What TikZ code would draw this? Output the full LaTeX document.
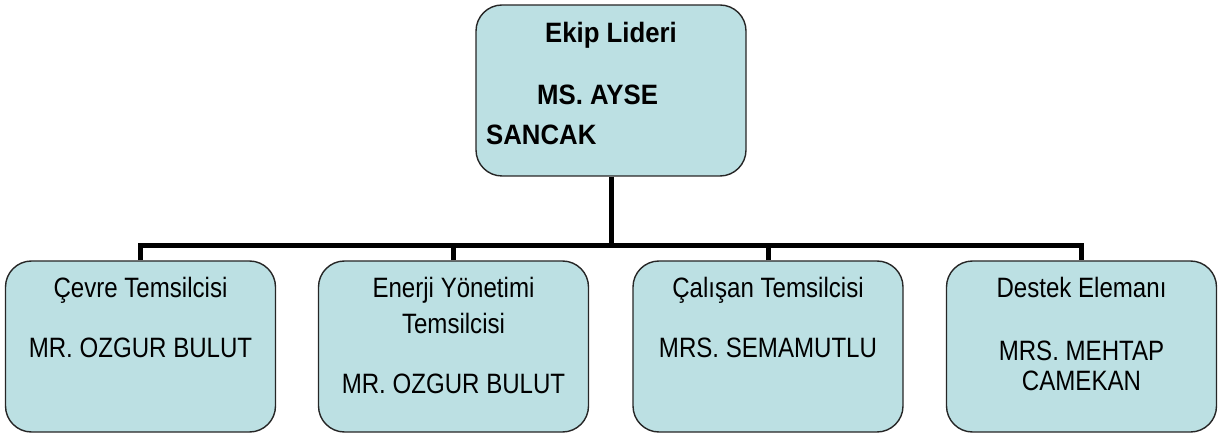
\documentclass[tikz,border=0pt]{standalone}
\usepackage{fontspec}
\setmainfont{Liberation Sans}
\newfontfamily\narrowf[FakeStretch=0.86]{Liberation Sans}
\newfontfamily\narrowbf[FakeStretch=0.92]{Liberation Sans Bold}
\definecolor{boxfill}{RGB}{188,224,227}
\tikzset{
  orgbox/.style={draw=black!85, line width=1.4pt, fill=boxfill, rounded corners=26pt,
    minimum width=270pt, minimum height=171pt, inner sep=0pt},
  conn/.style={line width=5pt, black},
  lbl/.style={anchor=base, inner sep=0pt, font=\narrowf\fontsize{28}{32}\selectfont},
  blbl/.style={anchor=base, inner sep=0pt, font=\narrowbf\fontsize{28}{32}\selectfont}
}
\begin{document}
\begin{tikzpicture}[x=1pt,y=-1pt]
\useasboundingbox (0,0) rectangle (1222,435);
% boxes
\node[orgbox] (top) at (611,90.5) {};
\node[orgbox] (c1) at (140.5,346.5) {};
\node[orgbox] (c2) at (453.5,346.5) {};
\node[orgbox] (c3) at (768,346.5) {};
\node[orgbox] (c4) at (1081.5,346.5) {};
% connectors
\coordinate (bus) at (0,245.5);
\draw[conn] (top.south) -- (top.south |- bus);
\draw[conn] (c1.north) -- (c1.north |- bus) -- (c4.north |- bus) -- (c4.north);
\draw[conn] (c2.north) -- (c2.north |- bus);
\draw[conn] (c3.north) -- (c3.north |- bus);
% top texts
\node[blbl] (t1) at (611,43) {Ekip Lideri};
\node[blbl, anchor=base west] (t2) at (537,105) {MS. AYSE};
\node[blbl, anchor=base west] (t3) at (486,145) {SANCAK};
% child texts
\node[lbl] (a1) at (140.5,298) {Çevre Temsilcisi};
\node[lbl] (a2) at (140.5,357) {MR. OZGUR BULUT};
\node[lbl] (b1) at (453.5,298) {Enerji Yönetimi};
\node[lbl] (b2) at (453.5,333) {Temsilcisi};
\node[lbl] (b3) at (453.5,393) {MR. OZGUR BULUT};
\node[lbl] (d1) at (768,298) {Çalışan Temsilcisi};
\node[lbl] (d2) at (768,357) {MRS. SEMAMUTLU};
\node[lbl] (e1) at (1081.5,298) {Destek Elemanı};
\node[lbl] (e2) at (1081.5,360) {MRS. MEHTAP};
\node[lbl] (e3) at (1081.5,390) {CAMEKAN};
\end{tikzpicture}
\end{document}
